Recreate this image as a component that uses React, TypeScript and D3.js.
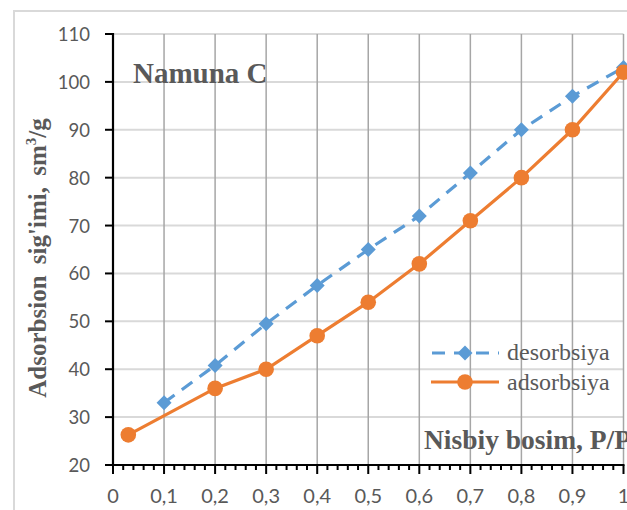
import React from "react";
import * as d3 from "d3";

const xTicks = [0, 0.1, 0.2, 0.3, 0.4, 0.5, 0.6, 0.7, 0.8, 0.9, 1];
const xTickLabels = ["0", "0,1", "0,2", "0,3", "0,4", "0,5", "0,6", "0,7", "0,8", "0,9", "1"];
const yTicks = [20, 30, 40, 50, 60, 70, 80, 90, 100, 110];

const desX = [0.1, 0.2, 0.3, 0.4, 0.5, 0.6, 0.7, 0.8, 0.9, 1.0];
const desorbsiya = [33, 40.8, 49.5, 57.5, 65, 72, 81, 90, 97, 103];
const adsX = [0.03, 0.2, 0.3, 0.4, 0.5, 0.6, 0.7, 0.8, 0.9, 1.0];
const adsorbsiya = [26.3, 36, 40, 47, 54, 62, 71, 80, 90, 102];

const BLUE = "#5B9BD5";
const ORANGE = "#ED7D31";
const TEXT = "#595959";
const SERIF = "'Liberation Serif', 'Times New Roman', serif";
const SANS = "Lato, 'Open Sans', sans-serif";

export default function App() {
  const x = d3.scaleLinear().domain([0, 1]).range([113, 623.5]);
  const y = d3.scaleLinear().domain([20, 110]).range([465, 34]);
  const minor = d3.range(0, 1.0001, 0.02);

  const line = d3
    .line<[number, number]>()
    .x((d) => x(d[0]))
    .y((d) => y(d[1]));
  const desPts: [number, number][] = desX.map((v, i) => [v, desorbsiya[i]]);
  const adsPts: [number, number][] = adsX.map((v, i) => [v, adsorbsiya[i]]);
  const diamond = (cx: number, cy: number, r: number) =>
    `M${cx},${cy - r}L${cx + r},${cy}L${cx},${cy + r}L${cx - r},${cy}Z`;

  return (
    <svg
      width={627}
      height={510}
      style={{ position: "absolute", left: 0, top: 0, background: "#fff" }}
    >
      {/* outer chart frame */}
      <rect x={14} y={11} width={700} height={600} fill="#fff" stroke="#d9d9d9" strokeWidth={2} />

      {/* horizontal gridlines */}
      {yTicks.map((t) => (
        <line key={"h" + t} x1={x(0)} x2={x(1)} y1={y(t)} y2={y(t)} stroke="#d9d9d9" strokeWidth={2} />
      ))}
      {/* vertical gridlines */}
      {xTicks.slice(1).map((t) => (
        <line key={"v" + t} x1={x(t)} x2={x(t)} y1={y(110)} y2={y(20)} stroke="#a6a6a6" strokeWidth={1.5} />
      ))}

      {/* axes */}
      <line x1={x(0)} x2={x(0)} y1={y(110) - 1} y2={y(20) + 1} stroke="#000" strokeWidth={2.2} />
      <line x1={x(0) - 1} x2={x(1) + 1} y1={y(20)} y2={y(20)} stroke="#000" strokeWidth={2.2} />
      {yTicks.map((t) => (
        <line key={"yt" + t} x1={x(0) - 8} x2={x(0)} y1={y(t)} y2={y(t)} stroke="#000" strokeWidth={2} />
      ))}
      {minor.map((t, i) => (
        <line
          key={"xm" + i}
          x1={x(t)}
          x2={x(t)}
          y1={y(20)}
          y2={y(20) + (i % 5 === 0 ? 9 : 5)}
          stroke="#000"
          strokeWidth={2}
        />
      ))}

      {/* tick labels */}
      {yTicks.map((t) => (
        <text
          key={"yl" + t}
          x={90}
          y={y(t)}
          textAnchor="end"
          dominantBaseline="central"
          fontFamily={SANS}
          fontSize={18.5}
          fill={TEXT}
        >
          {t}
        </text>
      ))}
      {xTicks.map((t, i) => (
        <text
          key={"xl" + t}
          x={x(t)}
          y={503}
          textAnchor="middle"
          fontFamily={SANS}
          fontSize={20}
          fill={TEXT}
        >
          {xTickLabels[i]}
        </text>
      ))}

      {/* series: desorbsiya */}
      <path d={line(desPts) || ""} fill="none" stroke={BLUE} strokeWidth={3.2} strokeDasharray="13 9" />
      {desPts.map((p, i) => (
        <path key={"dm" + i} d={diamond(x(p[0]), y(p[1]), 7.5)} fill={BLUE} />
      ))}

      {/* series: adsorbsiya */}
      <path d={line(adsPts) || ""} fill="none" stroke={ORANGE} strokeWidth={3.2} />
      {adsPts.map((p, i) => (
        <circle key={"am" + i} cx={x(p[0])} cy={y(p[1])} r={7.8} fill={ORANGE} />
      ))}

      {/* title */}
      <text x={133} y={83} fontFamily={SERIF} fontWeight="bold" fontSize={29} fill={TEXT}>
        Namuna C
      </text>

      {/* y axis title */}
      <text
        transform={`translate(46, 258) rotate(-90)`}
        textAnchor="middle"
        fontFamily={SERIF}
        fontWeight="bold"
        fontSize={25}
        wordSpacing={5}
        fill={TEXT}
      >
        Adsorbsion sig'imi, sm<tspan fontSize={15} dy={-10}>3</tspan>
        <tspan dy={10}>/g</tspan>
      </text>

      {/* x axis title */}
      <text x={424} y={449} fontFamily={SERIF} fontWeight="bold" fontSize={27.5} fill={TEXT}>
        Nisbiy bosim, P/P
      </text>

      {/* legend */}
      <line x1={431} x2={499} y1={353} y2={353} stroke={BLUE} strokeWidth={3.2} strokeDasharray="13 9" strokeDashoffset={-1} />
      <path d={diamond(465, 353, 7.5)} fill={BLUE} />
      <text x={507} y={360} fontFamily={SERIF} fontSize={24} fill={TEXT}>
        desorbsiya
      </text>
      <line x1={431} x2={499} y1={382} y2={382} stroke={ORANGE} strokeWidth={3.2} />
      <circle cx={465} cy={382} r={7.8} fill={ORANGE} />
      <text x={507} y={390} fontFamily={SERIF} fontSize={24} fill={TEXT}>
        adsorbsiya
      </text>
    </svg>
  );
}
